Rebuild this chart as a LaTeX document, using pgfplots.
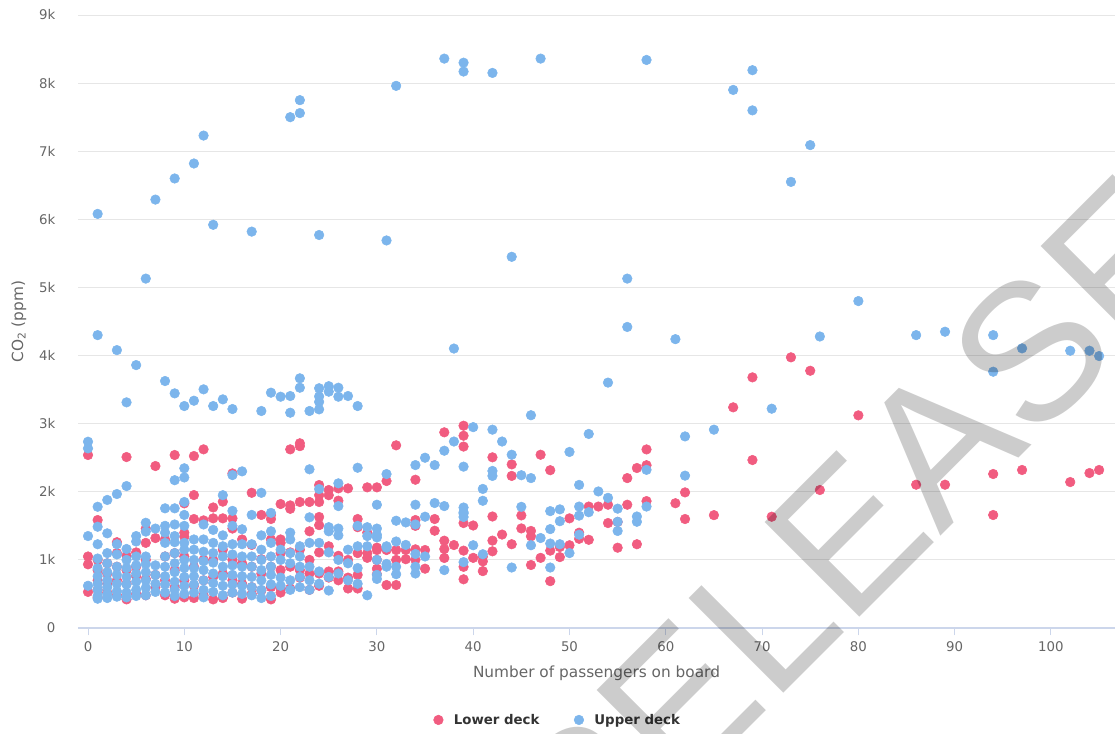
\documentclass[border=0pt]{standalone}
\usepackage{fontspec}
\setmainfont{DejaVu Sans}
\newfontfamily\wmfont{Liberation Sans}
\usepackage{pgfplots}
\pgfplotsset{compat=1.18}

\definecolor{lowc}{HTML}{F15C80}
\definecolor{upc}{HTML}{7CB5EC}
\definecolor{gridc}{HTML}{E6E6E6}
\definecolor{axisc}{HTML}{CCD6EB}
\definecolor{lblc}{HTML}{666666}
\definecolor{legc}{HTML}{333333}

\begin{document}
\begin{tikzpicture}
% page = 1115 x 733 px, 1px = 0.75pt, plot area SW corner at (0,0)
\path[use as bounding box] (-58.5pt,-78.75pt) rectangle (777.75pt,471pt);
\begin{axis}[
  at={(0pt,0pt)}, anchor=south west,
  scale only axis, width=777.75pt, height=459.75pt,
  xmin=-1.04, xmax=106.65, ymin=0, ymax=9000,
  axis x line*=bottom, axis y line*=left,
  y axis line style={draw=none},
  x axis line style={draw=axisc, line width=0.9pt},
  xtick={0,10,...,100},
  ytick={0,1000,...,9000},
  yticklabels={0,1k,2k,3k,4k,5k,6k,7k,8k,9k},
  ymajorgrids, grid style={gridc, line width=0.75pt},
  tick align=outside, major tick length=5.5pt,
  xtick style={draw=axisc, line width=0.75pt},
  ytick style={draw=none},
  /pgf/number format/assume math mode=true,
  tick label style={font=\fontsize{10}{12}\selectfont, text=lblc},
  yticklabel style={xshift=-8pt},
  xticklabel style={yshift=-1pt},
  xlabel={Number of passengers on board},
  ylabel={CO\textsubscript{2} (ppm)},
  label style={font=\fontsize{11.5}{13}\selectfont, text=lblc},
  xlabel style={at={(axis description cs:0.5,-0.0734)}, anchor=center},
  ylabel style={at={(axis description cs:-0.0569,0.5)}, rotate=0, anchor=center},
  legend columns=2,
  legend image code/.code={\path[draw=none] (0pt,0pt) (13.2pt,0pt); \draw[#1] plot coordinates {(3.6pt,0pt)};},
  legend style={draw=none, fill=none, at={(axis description cs:0.463,-0.150)}, anchor=center,
    font=\bfseries\fontsize{10}{12}\selectfont, text=legc,
    /tikz/every even column/.append style={column sep=24pt}},
]
\addplot[only marks, mark=*, mark size=3.6pt, color=lowc, mark options={draw=none, fill=lowc}] coordinates {
(0,2540)(0,1050)(0,935)(0,530)
(1,1585)(1,1000)(1,850)(1,700)(1,560)(1,450)
(2,950)(2,800)(2,650)(2,520)
(3,1260)(3,1100)(3,900)(3,700)(3,480)
(4,2510)(4,1060)(4,850)(4,650)(4,420)
(5,1110)(5,900)(5,760)(5,500)
(6,1460)(6,1250)(6,1000)(6,720)(6,480)
(7,2378)(7,1320)(7,780)(7,600)
(8,1300)(8,1050)(8,700)(8,480)
(9,2540)(9,1100)(9,850)(9,600)(9,430)
(10,1830)(10,1400)(10,1340)(10,1050)(10,700)(10,450)
(11,2525)(11,1952)(11,1600)(11,900)(11,620)(11,440)
(12,2623)(12,1580)(12,1000)(12,700)(12,480)
(13,1770)(13,1610)(13,1000)(13,750)(13,420)
(14,1855)(14,1610)(14,1150)(14,800)(14,440)
(15,2270)(15,1610)(15,1460)(15,1000)(15,700)(15,520)
(16,1300)(16,950)(16,650)(16,430)
(17,1985)(17,1220)(17,900)(17,600)(17,500)
(18,1660)(18,1010)(18,800)(18,550)
(19,1660)(19,1600)(19,1300)(19,900)(19,600)(19,420)
(20,1820)(20,1300)(20,1250)(20,1100)(20,850)(20,580)(20,520)
(21,2623)(21,1800)(21,1750)(21,1110)(21,900)(21,580)
(22,2712)(22,2670)(22,1850)(22,1150)(22,850)(22,740)
(23,1850)(23,1420)(23,1000)(23,800)(23,560)
(24,2099)(24,1950)(24,1850)(24,1630)(24,1510)(24,1110)(24,800)(24,620)
(25,2026)(25,1950)(25,1200)(25,830)(25,740)
(26,2050)(26,1870)(26,1060)(26,830)(26,700)
(27,2050)(27,1000)(27,740)(27,580)
(28,1600)(28,1480)(28,1100)(28,780)(28,580)
(29,2065)(29,1400)(29,1100)(29,1030)
(30,2065)(30,1180)(30,1145)(30,1000)(30,870)(30,790)
(31,2158)(31,1145)(31,631)
(32,2682)(32,1145)(32,1000)(32,631)
(33,1145)(33,1010)
(34,2177)(34,1585)(34,1500)(34,1155)(34,1000)
(35,1145)(35,871)
(36,1600)(36,1428)
(37,2873)(37,1282)(37,1159)(37,1028)
(38,1218)
(39,2970)(39,2823)(39,2664)(39,1541)(39,1136)(39,898)(39,715)
(40,1505)(40,1030)
(41,1047)(41,978)(41,835)
(42,2506)(42,1637)(42,1283)(42,1126)
(43,1372)
(44,2402)(44,2233)(44,1230)
(45,1653)(45,1462)
(46,1425)(46,1346)(46,925)
(47,2544)(47,1030)
(48,2317)(48,1136)(48,688)
(49,1189)(49,1041)
(50,1610)(50,1215)
(51,1399)(51,1310)
(52,1783)(52,1295)
(53,1783)
(54,1810)(54,1541)
(55,1557)(55,1179)
(56,2201)(56,1810)
(57,2349)(57,1230)
(58,2622)(58,2390)(58,1863)
(61,1832)
(62,1991)(62,1600)
(65,1657)
(67,3240)
(69,3680)(69,2466)
(71,1634)
(73,3974)
(75,3777)
(76,2026)
(80,3122)
(86,2104)
(89,2104)
(94,2261)(94,1659)
(97,2320)
(102,2143)
(104,2275)
(105,2320)
};
\addlegendentry{Lower deck}
\addplot[only marks, mark=*, mark size=3.6pt, color=upc, mark options={draw=none, fill=upc}] coordinates {
(0,2735)(0,2637)(0,1350)(0,620)
(1,6080)(1,4300)(1,1780)(1,1487)(1,1230)(1,1020)(1,880)(1,760)(1,650)(1,560)(1,470)(1,430)
(2,1880)(2,1390)(2,1100)(2,950)(2,820)(2,700)(2,600)(2,500)(2,440)
(3,4080)(3,1967)(3,1230)(3,1080)(3,900)(3,780)(3,650)(3,540)(3,460)
(4,3313)(4,2084)(4,1160)(4,1000)(4,880)(4,750)(4,640)(4,520)(4,450)
(5,3860)(5,1350)(5,1270)(5,1050)(5,920)(5,800)(5,680)(5,560)(5,470)
(6,5130)(6,1545)(6,1415)(6,1050)(6,940)(6,820)(6,700)(6,590)(6,480)
(7,6290)(7,1460)(7,920)(7,780)(7,650)(7,530)
(8,3626)(8,1757)(8,1500)(8,1400)(8,1250)(8,1050)(8,900)(8,760)(8,640)(8,520)
(9,6600)(9,3445)(9,2170)(9,1757)(9,1520)(9,1350)(9,1260)(9,1100)(9,950)(9,820)(9,680)(9,560)(9,470)
(10,3259)(10,2345)(10,2210)(10,1850)(10,1660)(10,1500)(10,1250)(10,1150)(10,1000)(10,880)(10,750)(10,620)(10,500)
(11,6820)(11,3337)(11,1300)(11,1150)(11,1000)(11,880)(11,760)(11,640)(11,520)
(12,7230)(12,3504)(12,1520)(12,1300)(12,1120)(12,980)(12,850)(12,700)(12,560)(12,450)
(13,5920)(13,3259)(13,1440)(13,1250)(13,1100)(13,960)(13,800)(13,660)(13,530)
(14,3357)(14,1950)(14,1360)(14,1200)(14,1050)(14,900)(14,760)(14,620)(14,480)
(15,3215)(15,2245)(15,1720)(15,1500)(15,1230)(15,1080)(15,920)(15,780)(15,640)(15,520)
(16,2300)(16,1450)(16,1230)(16,1050)(16,900)(16,760)(16,620)(16,500)
(17,5820)(17,1660)(17,1230)(17,1050)(17,900)(17,750)(17,600)(17,480)
(18,3186)(18,1985)(18,1360)(18,1150)(18,1000)(18,850)(18,700)(18,560)(18,440)
(19,3455)(19,1690)(19,1420)(19,1250)(19,1050)(19,900)(19,780)(19,640)(19,470)
(20,3396)(20,1150)(20,1000)(20,740)(20,620)
(21,7500)(21,3406)(21,3161)(21,1400)(21,1300)(21,1100)(21,950)(21,700)(21,560)
(22,7750)(22,7560)(22,3666)(22,3528)(22,1200)(22,1050)(22,900)(22,750)(22,600)
(23,3186)(23,2330)(23,1625)(23,1250)(23,900)(23,700)(23,560)
(24,5770)(24,3520)(24,3400)(24,3320)(24,3210)(24,2040)(24,1250)(24,830)(24,650)
(25,3550)(25,3470)(25,1480)(25,1420)(25,1110)(25,750)(25,550)
(26,3528)(26,3396)(26,2124)(26,1790)(26,1460)(26,1360)(26,1000)(26,800)
(27,3406)(27,1150)(27,950)(27,700)
(28,3259)(28,2353)(28,1500)(28,1200)(28,880)(28,650)
(29,1480)(29,1350)(29,1200)(29,480)
(30,1810)(30,1460)(30,1370)(30,1330)(30,1000)(30,780)(30,720)
(31,5690)(31,2260)(31,1200)(31,1180)(31,940)(31,900)
(32,7960)(32,1575)(32,1270)(32,900)(32,790)
(33,1550)(33,1220)
(34,2392)(34,1810)(34,1520)(34,1086)(34,900)(34,800)
(35,2500)(35,1634)(35,1050)
(36,2392)(36,1835)
(37,8360)(37,2603)(37,1790)(37,850)
(38,4103)(38,2738)
(39,8300)(39,8170)(39,2369)(39,1769)(39,1700)(39,1680)(39,1630)(39,967)
(40,2949)(40,1215)
(41,2042)(41,1868)(41,1083)
(42,8150)(42,2912)(42,2306)(42,2233)
(43,2738)
(44,5450)(44,2544)(44,888)
(45,2243)(45,1779)
(46,3124)(46,2201)(46,1215)
(47,8360)(47,1321)
(48,1716)(48,1452)(48,1240)(48,888)
(49,1742)(49,1568)(49,1230)
(50,2585)(50,1100)
(51,2101)(51,1783)(51,1650)(51,1370)
(52,2849)(52,1700)
(53,2005)
(54,3603)(54,1911)
(55,1752)(55,1560)(55,1425)
(56,5130)(56,4420)
(57,1637)(57,1560)
(58,8340)(58,2322)(58,1783)
(61,4241)
(62,2813)(62,2237)
(65,2912)
(67,7900)
(69,8190)(69,7600)
(71,3220)
(73,6550)
(75,7090)
(76,4280)
(80,4800)
(86,4300)
(89,4350)
(94,4300)(94,3763)
(97,4106)
(102,4071)
(104,4071)
(105,3993)
};
\addlegendentry{Upper deck}
\end{axis}
% watermark
\node[overlay, rotate=45, anchor=base west, inner sep=0pt, text=black, text opacity=0.2,
  font={\wmfont\fontsize{146}{146}\selectfont}] at (377.25pt,-201pt) {RELEASE};
\end{tikzpicture}
\end{document}
